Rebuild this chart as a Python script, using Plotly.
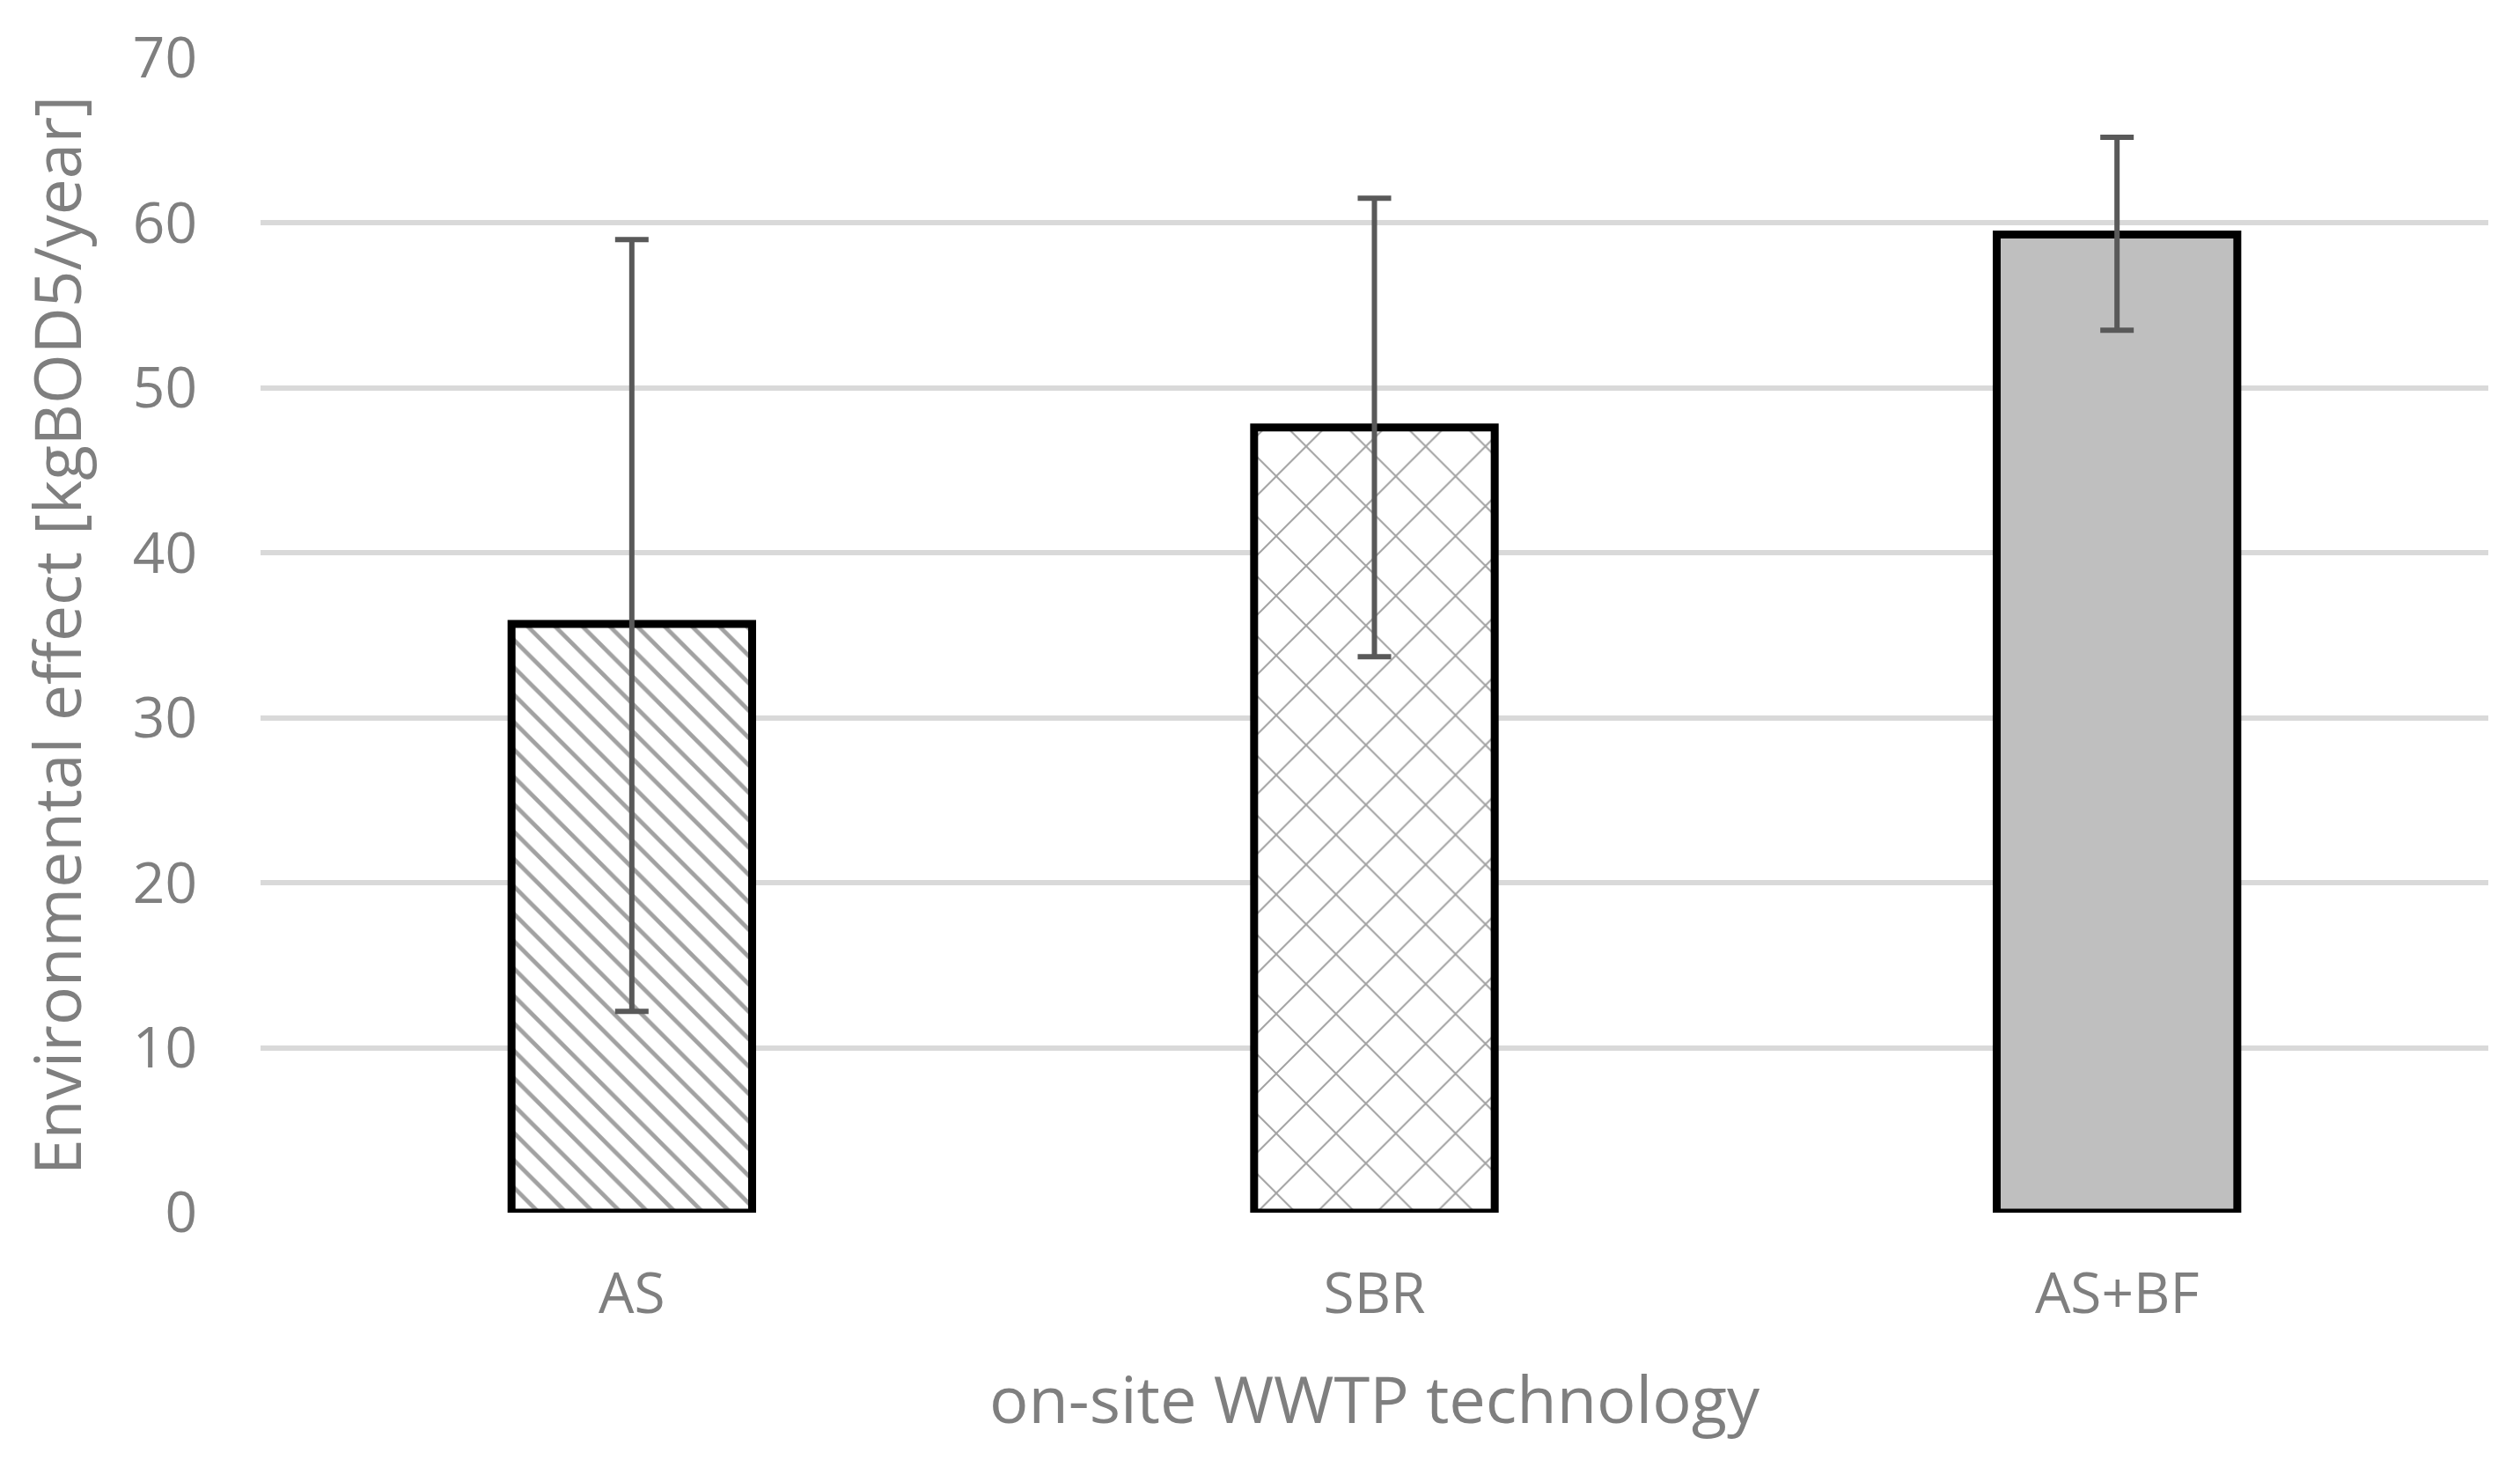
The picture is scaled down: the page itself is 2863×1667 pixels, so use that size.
import plotly.graph_objects as go

# data
categories = ["AS", "SBR", "AS+BF"]
effect = [35.7, 47.6, 59.3]
err_plus = [23.3, 13.9, 5.9]
err_minus = [23.5, 13.9, 5.8]
y_ticks = [0, 10, 20, 30, 40, 50, 60, 70]

fill_colors = ["white", "white", "#bfbfbf"]
pattern_shapes = ["\\", "x", ""]

font_family = "Open Sans, Noto Sans, sans-serif"
text_grey = "#7f7f7f"

fig = go.Figure()

fig.add_trace(go.Bar(
    x=categories,
    y=effect,
    width=0.324,
    marker=dict(
        color=fill_colors,
        line=dict(color="black", width=9),
        pattern=dict(
            shape=pattern_shapes,
            fgcolor="#bfbfbf",
            bgcolor="white",
            size=[22, 48, 8],
            solidity=[0.22, 0.08, 0.3],
            fillmode="overlay",
        ),
    ),
    error_y=dict(
        type="data",
        symmetric=False,
        array=err_plus,
        arrayminus=err_minus,
        color="#595959",
        thickness=6,
        width=19,
    ),
    showlegend=False,
))

# the page puts the figure 8px in from the top-left corner
fig.update_layout(
    width=2863,
    height=1667,
    paper_bgcolor="white",
    plot_bgcolor="white",
    margin=dict(l=288, r=44, t=58, b=297),
    font=dict(family=font_family, color=text_grey),
)

fig.update_xaxes(
    title=dict(text="on-site WWTP technology", font=dict(size=74, color=text_grey), standoff=55),
    tickfont=dict(size=64, color=text_grey),
    showline=False,
    ticks="",
    ticklabelstandoff=49,
)

fig.update_yaxes(
    title=dict(text="Environmental effect [kgBOD5/year]", font=dict(size=73, color=text_grey), standoff=34),
    range=[0, 70],
    tickvals=y_ticks,
    tickfont=dict(size=64, color=text_grey),
    showgrid=True,
    gridcolor="#d9d9d9",
    gridwidth=6,
    zeroline=False,
    showline=False,
    ticks="",
    ticklabelstandoff=71,
)

fig.write_html("out.html")
